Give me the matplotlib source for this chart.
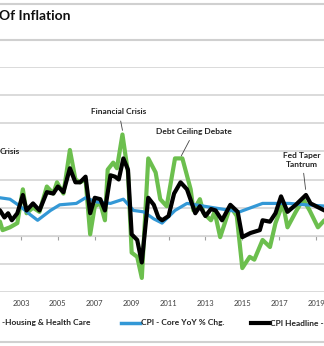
import matplotlib
matplotlib.use("Agg")
import matplotlib.pyplot as plt
import matplotlib.transforms as mtransforms
from matplotlib.lines import Line2D

plt.rcParams['font.family'] = ['Lato', 'DejaVu Sans']

# CPI Headline ex-Housing & Health Care (green)
green_x = [2001.6, 2001.86, 2002.0, 2002.4, 2002.8, 2003.1, 2003.3, 2003.65, 2004.0, 2004.4,
           2004.75, 2004.95, 2005.3, 2005.65, 2005.95, 2006.2, 2006.5, 2006.75, 2007.0, 2007.3,
           2007.55, 2007.7, 2008.0, 2008.2, 2008.5, 2008.8, 2009.0, 2009.3, 2009.55, 2009.9,
           2010.3, 2010.55, 2010.9, 2011.35, 2011.75, 2012.2, 2012.35, 2012.7, 2012.9, 2013.3,
           2013.5, 2013.8, 2014.35, 2014.7, 2015.0, 2015.4, 2015.65, 2016.1, 2016.5, 2016.8,
           2017.2, 2017.45, 2017.9, 2018.3, 2018.65, 2019.1, 2019.45, 2019.6]
green_y = [1.2, 1.0, 0.4, 0.6, 0.9, 3.3, 1.6, 2.0, 1.7, 3.5,
           3.0, 3.8, 3.0, 6.1, 4.0, 3.8, 4.0, 0.1, 2.1, 2.3,
           1.1, 4.7, 5.2, 4.8, 7.2, 4.5, -1.2, -1.5, -3.0, 5.5,
           4.5, 2.6, 2.1, 5.5, 5.5, 3.3, 1.8, 2.6, 1.6, 1.1,
           1.7, -0.1, 2.1, 1.4, -2.3, -1.5, -1.7, -0.3, -0.8, 0.9,
           2.3, 0.6, 1.7, 2.6, 1.8, 0.6, 1.1, 1.0]

# CPI - Core YoY % Chg. (blue)
blue_x = [2001.6, 2001.86, 2002.4, 2002.95, 2003.5, 2003.9, 2004.6, 2005.1, 2006.0, 2006.5,
          2007.1, 2007.85, 2008.55, 2009.1, 2009.65, 2010.2, 2010.65, 2011.35, 2012.0, 2013.4,
          2014.85, 2016.1, 2017.55, 2018.45, 2019.6]
blue_y = [2.7, 2.7, 2.6, 2.1, 1.5, 1.1, 1.8, 2.2, 2.3, 2.7,
          2.4, 2.3, 2.6, 1.8, 1.7, 1.2, 0.9, 1.8, 2.3, 2.0,
          1.7, 2.3, 2.3, 2.2, 2.1]

# CPI Headline (black)
black_x = [2001.6, 2001.86, 2002.1, 2002.3, 2002.5, 2002.8, 2003.1, 2003.3, 2003.65, 2004.0,
           2004.4, 2004.75, 2005.0, 2005.3, 2005.65, 2005.95, 2006.2, 2006.5, 2006.75, 2007.0,
           2007.3, 2007.55, 2007.85, 2008.1, 2008.3, 2008.55, 2008.8, 2009.0, 2009.3, 2009.55,
           2009.9, 2010.2, 2010.45, 2010.65, 2011.0, 2011.3, 2011.65, 2012.0, 2012.45, 2012.7,
           2013.0, 2013.3, 2013.55, 2013.9, 2014.35, 2014.75, 2015.0, 2015.45, 2015.95, 2016.1,
           2016.5, 2016.8, 2017.1, 2017.45, 2017.9, 2018.45, 2018.7, 2019.0, 2019.45, 2019.6]
black_y = [2.0, 1.8, 1.3, 1.6, 1.1, 1.6, 2.9, 1.8, 2.3, 1.8,
           3.1, 3.0, 3.5, 3.1, 4.8, 3.8, 3.8, 4.2, 1.6, 2.7,
           2.6, 1.8, 4.3, 4.2, 4.0, 5.5, 4.7, 0.1, -0.3, -1.9,
           2.7, 2.2, 1.3, 1.1, 1.4, 3.0, 3.8, 3.3, 1.6, 2.1,
           1.4, 1.9, 1.8, 1.1, 2.2, 1.7, -0.1, 0.2, 0.4, 1.1,
           1.0, 1.6, 2.8, 1.7, 2.2, 2.9, 2.3, 2.1, 1.8, 1.8]

year_ticks = [2003, 2005, 2007, 2009, 2011, 2013, 2015, 2017, 2019]

W, H = 324, 346
fig = plt.figure(figsize=(W / 100, H / 100), dpi=100)

def fx(px):
    return px / W

def fy(py):
    return 1 - py / H

ax = fig.add_axes([0, fy(292), 1, fy(67) - fy(292)])
ax.plot(green_x, green_y, color='#6cbf4e', lw=3.0, solid_joinstyle='round', zorder=3)
ax.plot(blue_x, blue_y, color='#3398d6', lw=2.3, solid_joinstyle='round', zorder=4)
ax.plot(black_x, black_y, color='black', lw=3.0, solid_joinstyle='round', zorder=5)

ax.set_xlim(2001.86, 2019.43)
ax.set_ylim(-4, 12)
ax.set_yticks(range(-4, 13, 2))
ax.yaxis.grid(True, color='#d4d4d4', lw=1.2)
ax.tick_params(axis='y', length=0, labelleft=False)
for s in ['top', 'left', 'right']:
    ax.spines[s].set_visible(False)
ax.spines['bottom'].set_position(('data', 0))
ax.spines['bottom'].set_color('#d4d4d4')
ax.set_xticks(year_ticks)
ax.tick_params(axis='x', length=3, color='#a0a0a0', labelbottom=False)

# year labels sit below the plot, ticks stay on the zero line
trans = mtransforms.blended_transform_factory(ax.transData, ax.transAxes)
for yr in year_ticks:
    ax.text(yr, -0.05, str(yr), transform=trans, fontsize=5.5, color='#404040',
            ha='center', va='center')

akw = dict(fontsize=6, fontweight='bold', color='#222222', ha='center', va='center',
           arrowprops=dict(arrowstyle='-', color='#444444', lw=0.6))
ax.annotate('Financial Crisis', xy=(2008.53, 7.3), xytext=(2008.31, 8.8), **akw)
ax.annotate('Debt Ceiling Debate', xy=(2011.62, 5.5), xytext=(2012.38, 7.4), **akw)
ax.annotate('Fed Taper\nTantrum', xy=(2018.45, 3.1), xytext=(2018.24, 5.4),
            linespacing=1.3, **akw)
ax.text(2002.95, 6.0, 'Crisis', fontsize=6, fontweight='bold', color='#222222',
        ha='right', va='center')

# title strip
for py in (4, 40, 342):
    fig.add_artist(Line2D([0, 1], [fy(py), fy(py)], color='#d0d0d0', lw=1.5))
fig.text(fx(-1), fy(16), 'Of Inflation', fontsize=10, fontweight='bold',
         color='#111111', ha='left', va='center')

# legend row
ly = fy(323)
fig.text(fx(90), ly, '-Housing & Health Care', fontsize=6, fontweight='bold',
         color='#222222', ha='right', va='center')
fig.add_artist(Line2D([fx(121), fx(140)], [ly, ly], color='#3398d6', lw=2.5))
fig.text(fx(141), ly, 'CPI - Core YoY % Chg.', fontsize=6, fontweight='bold',
         color='#222222', ha='left', va='center')
fig.add_artist(Line2D([fx(251), fx(270)], [ly, ly], color='black', lw=3))
fig.text(fx(270), ly, 'CPI Headline -', fontsize=6, fontweight='bold',
         color='#222222', ha='left', va='center')

fig.savefig('out.png', dpi=100)
